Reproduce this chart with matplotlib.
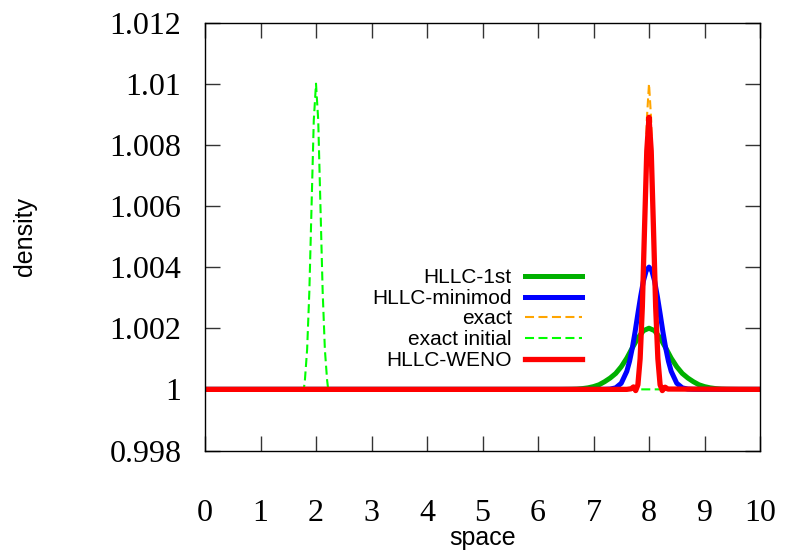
import matplotlib
matplotlib.use('Agg')
import matplotlib.pyplot as plt

plt.rcParams['lines.scale_dashes'] = False

# ---------------- data ----------------
hllc1_x = [0.0, 6.4, 6.6, 6.7, 6.8, 6.9, 7.0, 7.1, 7.2, 7.3, 7.4, 7.5, 7.6,
           7.7, 7.8, 7.9, 8.0, 8.1, 8.2, 8.3, 8.4, 8.5, 8.6, 8.7, 8.8, 8.9,
           9.0, 9.1, 9.2, 9.3, 9.4, 9.6, 10.0]
hllc1_y = [1.0, 1.0, 1.000004, 1.00001, 1.000025, 1.00005, 1.00009, 1.00015,
           1.00025, 1.00037, 1.00052, 1.00074, 1.00102, 1.00136, 1.00168,
           1.00192, 1.002, 1.00192, 1.00168, 1.00136, 1.00102, 1.00074,
           1.00052, 1.00037, 1.00025, 1.00015, 1.00009, 1.00005, 1.000025,
           1.00001, 1.000004, 1.0, 1.0]

minmod_x = [0.0, 7.1, 7.2, 7.3, 7.4, 7.5, 7.6, 7.65, 7.7, 7.75, 7.8, 7.85,
            7.9, 7.95, 8.0, 8.05, 8.1, 8.15, 8.2, 8.25, 8.3, 8.35, 8.4,
            8.5, 8.6, 8.7, 8.8, 8.9, 10.0]
minmod_y = [1.0, 1.0, 1.000002, 1.00001, 1.00005, 1.0002, 1.00059, 1.00092,
            1.00136, 1.00189, 1.00248, 1.00305, 1.00355, 1.00388, 1.004,
            1.00388, 1.00355, 1.00305, 1.00248, 1.00189, 1.00136, 1.00092,
            1.00059, 1.0002, 1.00005, 1.00001, 1.000002, 1.0, 1.0]

exact_x = [0.0, 7.78, 7.8, 7.84, 7.88, 7.92, 7.96, 8.0, 8.04, 8.08, 8.12,
           8.16, 8.2, 8.22, 10.0]
exact_y = [1.0, 1.0, 1.0003, 1.0013, 1.0032, 1.0060, 1.0088, 1.0100, 1.0088,
           1.0060, 1.0032, 1.0013, 1.0003, 1.0, 1.0]

init_x = [0.0, 1.78, 1.8, 1.84, 1.88, 1.92, 1.96, 2.0, 2.04, 2.08, 2.12,
          2.16, 2.2, 2.22, 10.0]
init_y = [1.0, 1.0, 1.0003, 1.0013, 1.0032, 1.0060, 1.0088, 1.0100, 1.0088,
          1.0060, 1.0032, 1.0013, 1.0003, 1.0, 1.0]

weno_x = [0.0, 7.60, 7.68, 7.72, 7.76, 7.80, 7.84, 7.88, 7.92, 7.96, 8.00,
          8.04, 8.08, 8.12, 8.16, 8.20, 8.24, 8.29, 8.34, 10.0]
weno_y = [1.0, 1.0, 1.00002, 1.00008, 0.99996, 1.00015, 1.0010, 1.0027,
          1.0053, 1.0078, 1.0089, 1.0078, 1.0053, 1.0027, 1.0010, 1.00015,
          0.99996, 1.00007, 1.00001, 1.0]

labels = ['HLLC-1st', 'HLLC-minimod', 'exact', 'exact initial', 'HLLC-WENO']

xticks = [0, 1, 2, 3, 4, 5, 6, 7, 8, 9, 10]
xtick_labels = ['0', '1', '2', '3', '4', '5', '6', '7', '8', '9', '10']
yticks = [0.998, 1.0, 1.002, 1.004, 1.006, 1.008, 1.01, 1.012]
ytick_labels = ['0.998', '1', '1.002', '1.004', '1.006', '1.008', '1.01', '1.012']

# ---------------- figure ----------------
W, H = 786, 553
fig = plt.figure(figsize=(W / 100, H / 100), dpi=100)
ax = fig.add_axes([205 / W, (H - 450.5) / H, 555 / W, 428 / H])

ax.plot(hllc1_x, hllc1_y, color='#00b000', lw=3.6, label=labels[0])
ax.plot(minmod_x, minmod_y, color='#0000ff', lw=3.6, label=labels[1])
ax.plot(exact_x, exact_y, color='#ffa500', lw=1.5, dashes=(6.5, 3.2),
        label=labels[2])
ax.plot(init_x, init_y, color='#00ff00', lw=1.5, dashes=(6.5, 3.2),
        label=labels[3])
ax.plot(weno_x, weno_y, color='#ff0000', lw=3.8, label=labels[4])

ax.set_xlim(0, 10)
ax.set_ylim(0.998, 1.012)
ax.set_xticks(xticks, labels=xtick_labels, fontfamily='Liberation Serif',
              fontsize=23)
ax.set_yticks(yticks, labels=ytick_labels, fontfamily='Liberation Serif',
              fontsize=23)
ax.tick_params(direction='in', length=10.8, width=1.0, top=True, right=True,
               color='#333333')
ax.tick_params(axis='x', pad=35)
ax.tick_params(axis='y', pad=17)
for s in ax.spines.values():
    s.set_linewidth(1.0)
    s.set_color('black')

fig.text(25 / W, 1 - 237 / H, 'density', rotation=90, ha='center',
         va='center', fontsize=18, family='Liberation Sans')
fig.text(483 / W, 1 - 545 / H, 'space', ha='center', va='baseline',
         fontsize=18, family='Liberation Sans')

leg = ax.legend(loc='center right', bbox_to_anchor=(582 / W, 1 - 319 / H),
                bbox_transform=fig.transFigure, frameon=False,
                markerfirst=False, handlelength=2.75, handletextpad=0.62,
                labelspacing=0.08, borderpad=0, borderaxespad=0,
                prop={'family': 'Liberation Sans', 'size': 15})

fig.savefig('out.png', dpi=100)
